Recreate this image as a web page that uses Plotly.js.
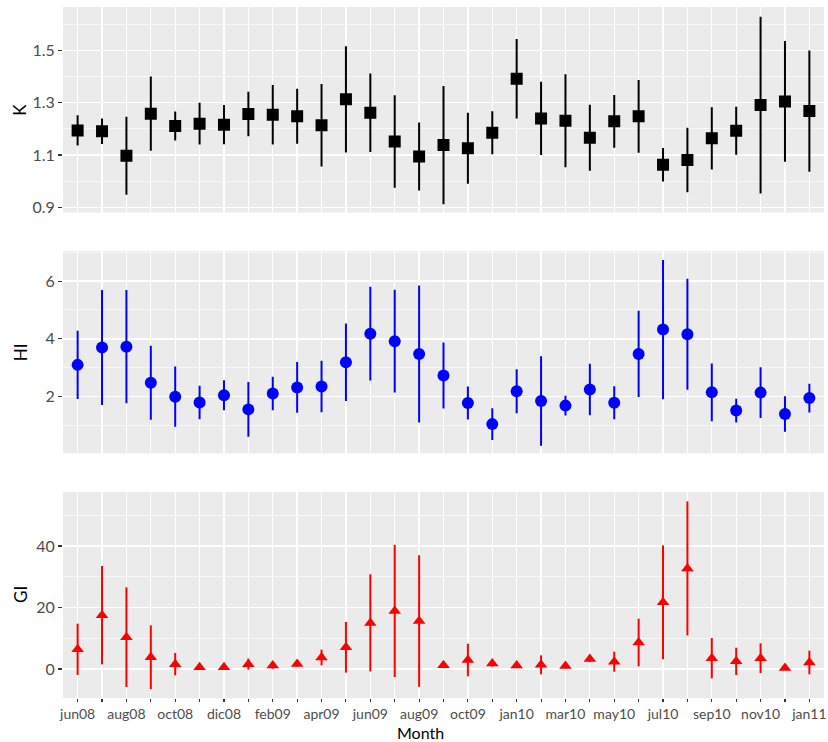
<!DOCTYPE html>
<html>
<head>
<meta charset="utf-8">
<script src="https://cdn.plot.ly/plotly-3.0.1.min.js"></script>
<style>html,body{margin:0;padding:0;background:#fff;}#chart{width:828px;height:742px;}</style>
</head>
<body>
<div id="chart"></div>
<script>
const months = ["jun08","jul08","aug08","sep08","oct08","nov08","dic08","jan09","feb09","mar09","apr09","may09","jun09","jul09","aug09","sep09","oct09","nov09","jan10","feb10","mar10","apr10","may10","jun10","jul10","aug10","sep10","oct10","nov10","dic10","jan11"];
const shownLabels = ["jun08","aug08","oct08","dic08","feb09","apr09","jun09","aug09","oct09","jan10","mar10","may10","jul10","sep10","nov10","jan11"];

const kVal = [1.194,1.191,1.097,1.258,1.211,1.220,1.216,1.257,1.254,1.248,1.214,1.313,1.262,1.152,1.094,1.138,1.126,1.185,1.392,1.240,1.231,1.166,1.229,1.248,1.063,1.081,1.164,1.193,1.291,1.305,1.268];
const kErr = [0.058,0.049,0.149,0.142,0.055,0.080,0.075,0.085,0.114,0.105,0.158,0.203,0.150,0.177,0.130,0.226,0.136,0.082,0.152,0.140,0.178,0.126,0.101,0.139,0.064,0.123,0.119,0.092,0.338,0.231,0.232];

const hiVal = [3.10,3.70,3.73,2.48,2.00,1.80,2.05,1.56,2.11,2.32,2.35,3.19,4.18,3.92,3.48,2.73,1.78,1.05,2.19,1.85,1.69,2.25,1.79,3.48,4.32,4.16,2.15,1.52,2.14,1.40,1.95];
const hiErr = [1.18,1.99,1.96,1.28,1.04,0.58,0.52,0.95,0.58,0.88,0.89,1.34,1.62,1.78,2.37,1.14,0.57,0.55,0.76,1.55,0.34,0.89,0.57,1.49,2.41,1.92,1.00,0.41,0.88,0.61,0.50];

const giVal = [6.4,17.5,10.35,3.85,1.57,0.55,0.6,1.57,1.1,1.6,3.74,7.05,15.0,18.9,15.6,1.2,2.93,1.8,1.1,1.36,1.0,3.25,2.38,8.62,21.7,32.7,3.52,2.49,3.52,0.3,2.11];
const giErr = [8.35,16.0,16.2,10.35,3.63,0.5,0.5,1.8,1.0,0.8,2.55,8.24,15.8,21.5,21.4,0.5,5.31,1.0,0.5,3.09,0.5,1.0,3.25,7.75,18.5,21.8,6.56,4.44,4.82,0.3,3.85];

const panelTitles = ["K", "HI", "GI"];
const xTitle = "Month";

function trace(y, err, color, symbol, size, xa, ya) {
  return {
    type: 'scatter', mode: 'markers', x: months, y: y,
    xaxis: xa, yaxis: ya, showlegend: false, hoverinfo: 'x+y',
    marker: {color: color, symbol: symbol, size: size, line: {width: 0}},
    error_y: {type: 'data', array: err, visible: true, color: color, thickness: 2, width: 0}
  };
}

const data = [
  trace(kVal, kErr, '#000000', 'square', 12, 'x', 'y'),
  trace(hiVal, hiErr, '#0000FF', 'circle', 12, 'x2', 'y2'),
  trace(giVal, giErr, '#FF0000', 'triangle-up', 11, 'x3', 'y3')
];

const tickText = months.map(m => shownLabels.includes(m) ? m : '');

function xax(anchor, bottom) {
  return {
    anchor: anchor, domain: [0, 1], type: 'category',
    categoryorder: 'array', categoryarray: months,
    range: [-0.6, months.length - 0.4],
    tickmode: 'array', tickvals: months, ticktext: tickText,
    showticklabels: bottom, ticks: bottom ? 'outside' : '', ticklen: 3, tickwidth: 1.1, tickcolor: '#333333',
    showgrid: true, gridcolor: '#FFFFFF', gridwidth: 1.3,
    zeroline: false, showline: false,
    tickfont: {family: 'Lato', size: 14, color: '#4d4d4d'},
    title: {text: ''}
  };
}

function yax(anchor, domain, range, tickvals, minor0, dminor) {
  return {
    anchor: anchor, domain: domain, range: range,
    tickmode: 'array', tickvals: tickvals, ticktext: tickvals.map(String),
    ticks: 'outside', ticklen: 4, tickwidth: 1.1, tickcolor: '#333333',
    showgrid: true, gridcolor: '#FFFFFF', gridwidth: 1.3,
    minor: {tick0: minor0, dtick: dminor, showgrid: true, gridcolor: '#FFFFFF', gridwidth: 0.6, ticks: ''},
    zeroline: false, showline: false,
    tickfont: {family: 'Lato', size: 16, color: '#4d4d4d'},
    title: {text: ''}
  };
}

const domains = [[0.7025, 1.0], [0.3541, 0.6469], [0, 0.2981]];
const titleFont = {family: 'Lato', size: 17, color: '#000'};
const annotations = panelTitles.map((t, i) => ({
  text: t, xref: 'paper', yref: 'paper',
  x: (20 - 63) / 761, y: (domains[i][0] + domains[i][1]) / 2,
  xanchor: 'center', yanchor: 'middle', textangle: -90, showarrow: false, font: titleFont
}));
annotations.push({
  text: xTitle, xref: 'paper', yref: 'paper',
  x: (420 - 63) / 761, y: (698 - 732.5) / 691,
  xanchor: 'center', yanchor: 'middle', showarrow: false,
  font: {family: 'Lato', size: 16, color: '#000'}
});

const layout = {
  width: 828, height: 742,
  margin: {l: 63, r: 4, t: 7, b: 44},
  paper_bgcolor: '#FFFFFF', plot_bgcolor: '#EBEBEB',
  font: {family: 'Lato'},
  showlegend: false,
  xaxis: xax('y', false),
  xaxis2: xax('y2', false),
  xaxis3: xax('y3', true),
  yaxis: yax('x', domains[0], [0.880, 1.666], [0.9, 1.1, 1.3, 1.5], 1.0, 0.2),
  yaxis2: yax('x2', domains[1], [0.04, 7.04], [2, 4, 6], 1, 2),
  yaxis3: yax('x3', domains[2], [-9.43, 57.56], [0, 20, 40], 10, 20),
  annotations: annotations
};

Plotly.newPlot('chart', data, layout, {displayModeBar: false, staticPlot: true});
</script>
</body>
</html>
